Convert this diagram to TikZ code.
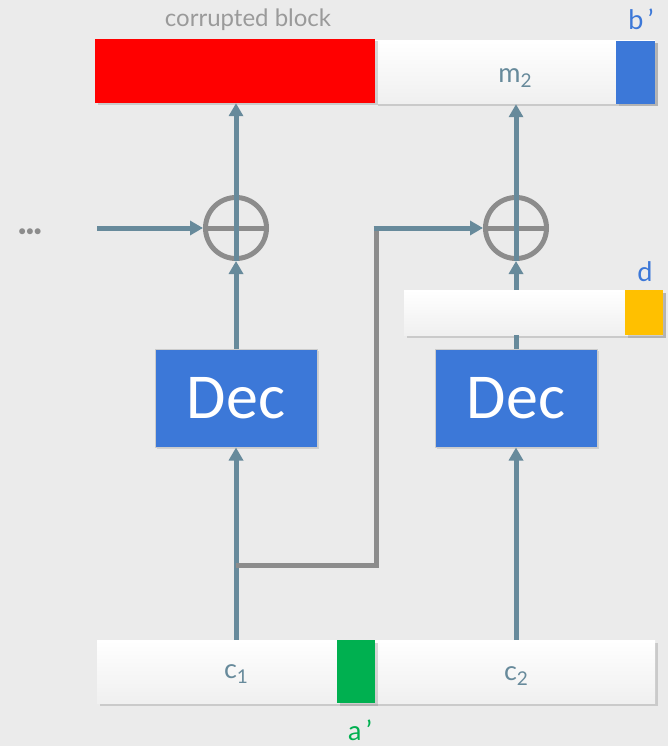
\documentclass[tikz,border=0pt]{standalone}
\usepackage{fontspec}
\setmainfont{Lato}
\newfontfamily\decfont{Carlito}
\usetikzlibrary{arrows.meta,shadows}
\definecolor{bg}{HTML}{EBEBEB}
\definecolor{wire}{HTML}{678A9B}
\definecolor{ring}{HTML}{8C8C8C}
\definecolor{decblue}{HTML}{3C78D8}
\definecolor{tagyellow}{HTML}{FFC000}
\definecolor{taggreen}{HTML}{00B050}
\definecolor{labelgray}{HTML}{9A9A9A}
\newcommand{\blocksub}[2]{#1\raisebox{-5pt}{\fontsize{19}{19}\selectfont #2}}
\tikzset{
  bar/.style={rectangle, draw=none, inner sep=0pt, top color=white, bottom color=white!94!black,
    drop shadow={shadow xshift=2.5pt, shadow yshift=-2.5pt, opacity=0.3}},
  tag/.style={rectangle, draw=none, inner sep=0pt,
    drop shadow={shadow xshift=2.5pt, shadow yshift=-2.5pt, opacity=0.3}},
  decbox/.style={rectangle, fill=decblue, draw=black!20, line width=1pt, inner sep=0pt,
    minimum width=162pt, minimum height=98pt, text=white,
    font=\decfont\fontsize{64}{64}\selectfont,
    drop shadow={shadow xshift=2pt, shadow yshift=-2pt, opacity=0.25}},
  xor/.style={circle, draw=ring, line width=5pt, minimum size=61pt, inner sep=0pt},
  flow/.style={draw=wire, line width=5pt, -{Triangle[length=13pt,width=14pt]}},
  plain/.style={draw=wire, line width=5pt},
  grayline/.style={draw=ring, line width=5pt},
  lbl/.style={inner sep=0pt},
  blocktext/.style={lbl, text=wire, font=\fontsize{27}{27}\selectfont},
}
\begin{document}
\begin{tikzpicture}[x=1pt,y=-1pt]
  \fill[bg] (0,0) rectangle (668,746);
  \useasboundingbox (0,0) rectangle (668,746);

  % top block: corrupted part, m2 and tag b'
  \node[bar, minimum width=280pt, minimum height=63pt] (m2bar) at (515,72.5) {};
  \node[tag, fill=decblue, minimum width=39pt, minimum height=63pt] (bblk) at (635.5,72.5) {};
  \node[tag, fill=red, minimum width=280pt, minimum height=64pt] (redblk) at (235,71) {};
  \node[blocktext] (m2) at (515,78) {\blocksub{m}{2}};
  \node[lbl, text=labelgray, font=\fontsize{24}{24}\selectfont] (corr) at (248,20) {corrupted block};
  \node[lbl, text=decblue, font=\fontsize{27}{27}\selectfont] (blbl) at (641,19) {b\,’};

  % xor gates
  \node[xor] (xor1) at (236,228) {};
  \node[xor] (xor2) at (516,228) {};
  \draw[grayline] (xor1.west) -- (xor1.east);
  \draw[grayline] (xor2.west) -- (xor2.east);

  % decryption boxes
  \node[decbox] (dec1) at (236,398) {Dec};
  \node[decbox] (dec2) at (516,398) {Dec};

  % tag d block
  \node[bar, minimum width=259pt, minimum height=45pt] (dbar) at (533.5,312.5) {};
  \node[tag, fill=tagyellow, minimum width=38pt, minimum height=45pt] (dblk) at (644,312.5) {};
  \node[lbl, text=decblue, font=\fontsize{27}{27}\selectfont] (dlbl) at (645,272) {d};

  % bottom block: c1, tag a', c2
  \node[bar, minimum width=558pt, minimum height=63pt] (cbar) at (376,671.5) {};
  \node[tag, fill=taggreen, minimum width=38pt, minimum height=63pt] (ablk) at (356,671.5) {};
  \node[blocktext] (c1) at (236,674) {\blocksub{c}{1}};
  \node[blocktext] (c2) at (516,676) {\blocksub{c}{2}};
  \node[lbl, text=taggreen, font=\fontsize{27}{27}\selectfont] (albl) at (360,730) {a\,’};

  % previous block input
  \node[lbl, text=ring, font=\fontsize{16}{16}\selectfont] (dots) at (30,233) {\textbullet\kern-1.5pt\textbullet\kern-1.5pt\textbullet};
  \coordinate (prev) at (97,228);

  % branch of c1 feeding the second xor
  \coordinate (split) at (236,565);
  \coordinate (corner) at (376,565);
  \coordinate (turn) at (376,228);

  % connectors
  \draw[flow] (dec1.south |- cbar.north) -- (dec1.south);
  \draw[flow] (dec2.south |- cbar.north) -- (dec2.south);
  \draw[flow] (dec1.north) -- (xor1.south);
  \draw[flow] (xor1.south) -- (xor1.south |- redblk.south);
  \draw[plain] (dec2.north) -- (dec2.north |- dbar.south);
  \draw[flow] (dec2.north |- dbar.north) -- (xor2.south);
  \draw[flow] (xor2.south) -- (xor2.south |- m2bar.south);
  \draw[flow] (prev) -- (xor1.west);
  \draw[grayline, line join=miter] (split) -- (corner) -- ([yshift=-2.5pt]turn);
  \draw[flow] ([xshift=-2.5pt]turn) -- (xor2.west);
\end{tikzpicture}
\end{document}
